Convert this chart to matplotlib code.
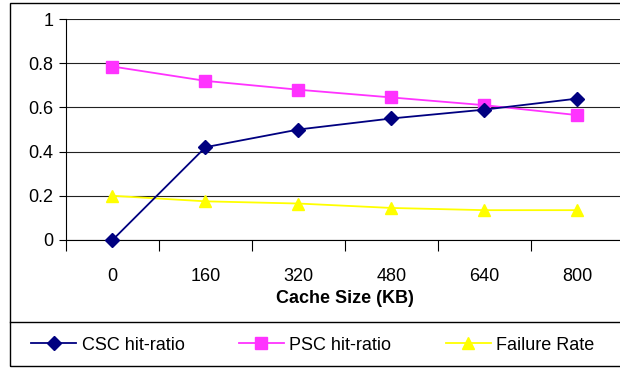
import matplotlib.pyplot as plt
from matplotlib.patches import Rectangle
from matplotlib.lines import Line2D

plt.rcParams['font.family'] = ['Liberation Sans', 'DejaVu Sans']

# data
cache_sizes = ["0", "160", "320", "480", "640", "800"]
csc_hit = [0.0, 0.42, 0.50, 0.55, 0.59, 0.64]
psc_hit = [0.785, 0.72, 0.68, 0.645, 0.61, 0.565]
failure_rate = [0.20, 0.175, 0.165, 0.145, 0.135, 0.135]

W, H = 620, 368
fig = plt.figure(figsize=(W / 100, H / 100), dpi=100)
ax = fig.add_axes([66 / W, 1 - 240 / H, 558 / W, 221 / H])

x = list(range(len(cache_sizes)))
ax.plot(x, csc_hit, color="#000080", marker="D", markersize=7, lw=1.3,
        label="CSC hit-ratio", clip_on=False, zorder=4)
ax.plot(x, psc_hit, color="#FF33FF", marker="s", markersize=8, lw=1.3,
        label="PSC hit-ratio", clip_on=False, zorder=3)
ax.plot(x, failure_rate, color="#FFFF00", marker="^", markersize=9, lw=1.3,
        label="Failure Rate", clip_on=False, zorder=3)

ax.set_xlim(-0.5, len(cache_sizes) - 0.5)
ax.set_ylim(0, 1)
ax.set_yticks([0, 0.2, 0.4, 0.6, 0.8, 1])
ax.set_yticklabels(["0", "0.2", "0.4", "0.6", "0.8", "1"])
ax.set_xticks(x)
ax.set_xticklabels(cache_sizes)
ax.set_xticks([i + 0.5 for i in range(-1, len(cache_sizes))], minor=True)
ax.tick_params(axis="x", which="major", length=0, pad=20, labelsize=13)
ax.tick_params(axis="x", which="minor", length=8, width=0.8, direction="out")
ax.tick_params(axis="y", length=5, width=0.8, direction="out", labelsize=13, pad=4)
ax.yaxis.grid(True, color="#222222", lw=0.8)
ax.set_axisbelow(True)
for s in ["top", "right"]:
    ax.spines[s].set_visible(False)
ax.spines["left"].set_linewidth(0.8)
ax.spines["bottom"].set_linewidth(0.8)
ax.set_xlabel("Cache Size (KB)", fontsize=13, fontweight="bold", labelpad=4)

# outer frame and legend box line
fig.patches.append(Rectangle((10 / W, 1 - 366 / H), 1.0, 363 / H, transform=fig.transFigure,
                             fill=False, edgecolor="black", lw=1.0))
fig.add_artist(Line2D([10 / W, 1.0], [1 - 322 / H, 1 - 322 / H], transform=fig.transFigure,
                      color="black", lw=1.0))

fig.legend(loc="center left", bbox_to_anchor=(15 / W, 1 - 345 / H), ncol=3, frameon=False,
           fontsize=13, handlelength=2.5, handletextpad=0.3, columnspacing=3.0)

fig.savefig("out.png", dpi=100)
